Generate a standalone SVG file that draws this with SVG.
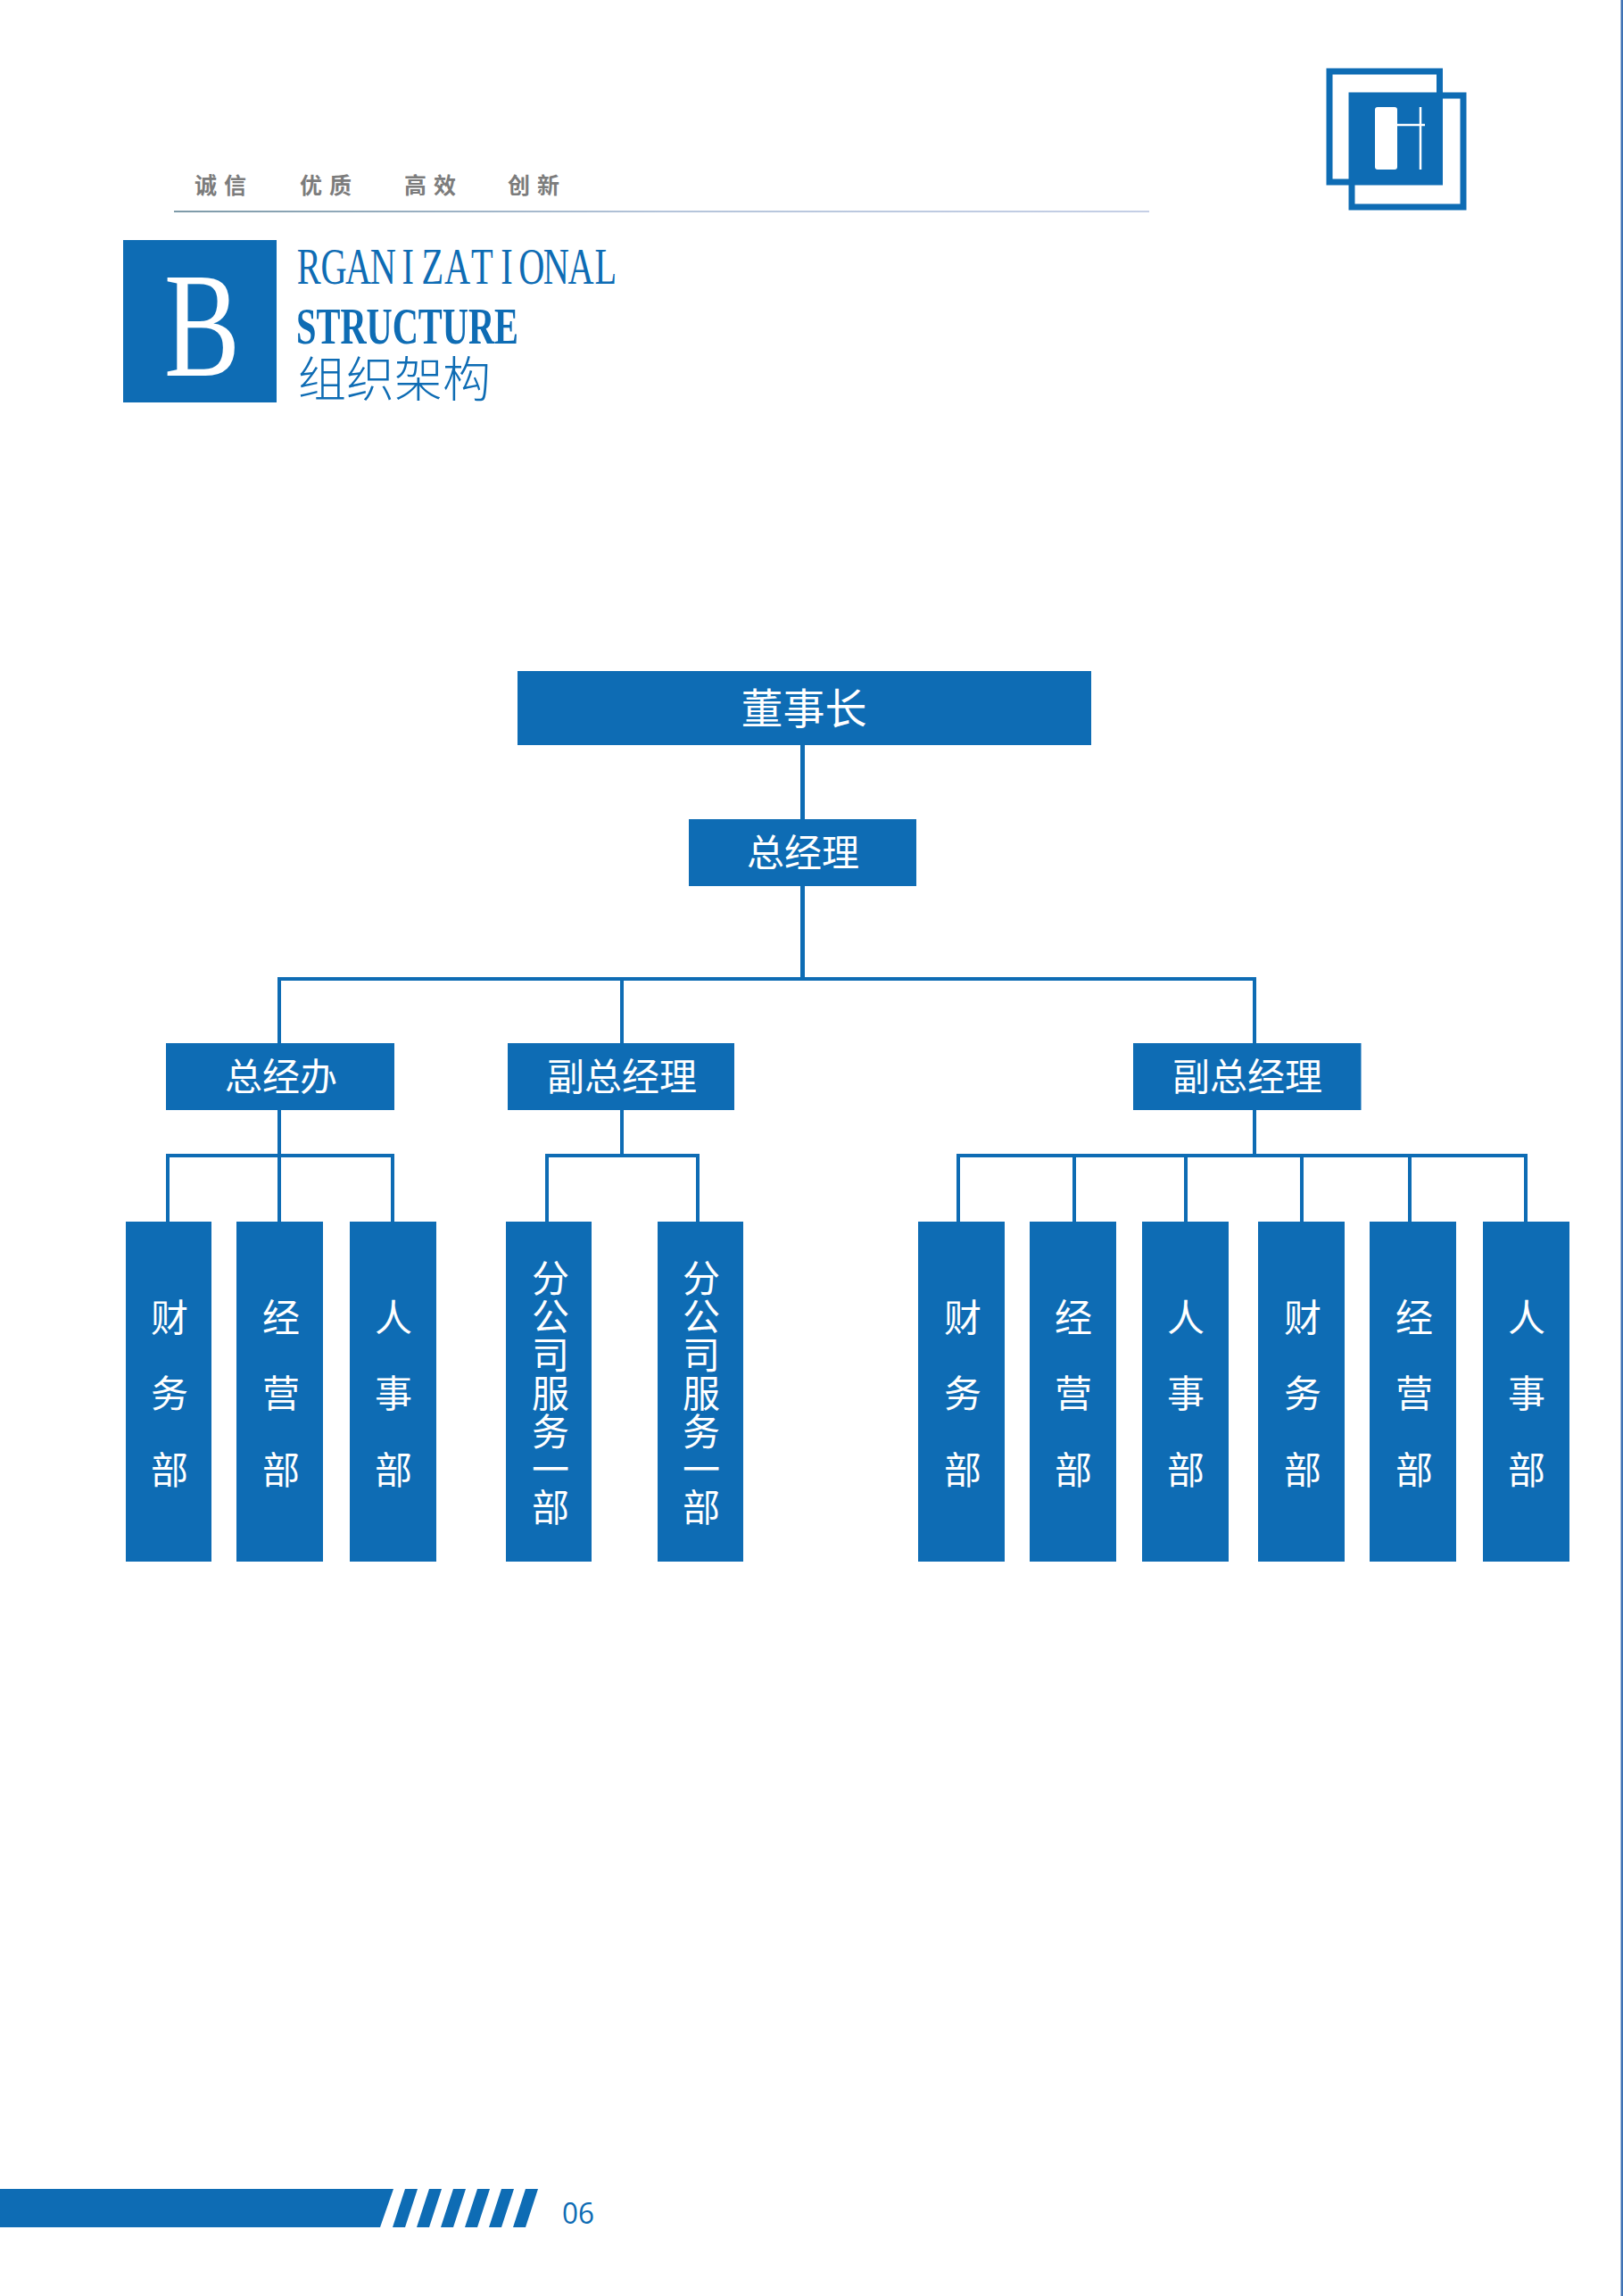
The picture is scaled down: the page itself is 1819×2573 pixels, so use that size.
<svg xmlns="http://www.w3.org/2000/svg" width="1819" height="2573" viewBox="0 0 1819 2573">
<defs><linearGradient id="rule" x1="0" x2="1" y1="0" y2="0"><stop offset="0" stop-color="#7d9aa8"/><stop offset="0.5" stop-color="#b4c4da"/><stop offset="1" stop-color="#c5cfe6"/></linearGradient></defs>
<style>
.b{fill:#0e6cb4}
.t{fill:#fff;font-family:"Noto Sans CJK SC",sans-serif;font-size:42px;text-anchor:middle;font-weight:400}
.c{fill:none;stroke:#0e6cb4;stroke-width:4}
.m{fill:#7c7c7c;font-family:"Noto Sans CJK SC",sans-serif;font-size:25px;font-weight:700}
.h{fill:#0e6cb4;font-family:"Liberation Serif",serif}
</style>
<rect width="1819" height="2573" fill="#fff"/>
<rect x="1816.500" y="0" width="2.500" height="2573" fill="#3f72b4"/>
<g id="logo">
<rect x="1490" y="80" width="123.500" height="124" fill="none" stroke="#0e6cb4" stroke-width="7"/>
<rect x="1515" y="107" width="125" height="125" fill="none" stroke="#0e6cb4" stroke-width="7"/>
<rect x="1512" y="104" width="105" height="103" class="b"/>
<rect x="1541" y="120" width="25" height="70" rx="3" fill="#fff"/>
<path d="M1566 140H1597M1592 120V190" stroke="#fff" stroke-width="2.500" fill="none"/>
</g>
<g id="header">
<text class="m" x="218" y="217" textLength="58">诚信</text>
<text class="m" x="336" y="217" textLength="58">优质</text>
<text class="m" x="453" y="217" textLength="58">高效</text>
<text class="m" x="569" y="217" textLength="58">创新</text>
<rect x="195" y="236" width="1093" height="2" fill="url(#rule)"/>
<rect x="138" y="269" width="172" height="182" class="b"/>
<text x="184" y="421" font-family="Liberation Serif,serif" font-size="168" fill="#fff" textLength="85" lengthAdjust="spacingAndGlyphs">B</text>
<text class="h" transform="translate(334 318) scale(.72 1)" font-size="56" text-anchor="middle" x="17 55.500 94 132.500 171 209.500 248 286.500 325 363.500 402 440.500 479" y="0">RGANIZATIONAL</text>
<text class="h" x="332" y="385" font-size="58" font-weight="700" textLength="249" lengthAdjust="spacingAndGlyphs">STRUCTURE</text>
<text x="334" y="445" font-family="Noto Sans CJK SC,sans-serif" font-size="54" font-weight="300" fill="#0e6cb4" textLength="216">组织架构</text>
</g>
<g id="connectors">
<path class="c" d="M899.500 835V918" style="stroke-width:5"/>
<path class="c" d="M899.500 993V1097" style="stroke-width:5"/>
<path class="c" d="M313 1169V1097H1406V1169M697 1097V1169"/>
<path class="c" d="M313 1244V1369M188 1369V1295H440V1369"/>
<path class="c" d="M697 1244V1295M613 1369V1295H782V1369"/>
<path class="c" d="M1406 1244V1295M1074 1369V1295H1710V1369M1204 1295V1369M1329 1295V1369M1459 1295V1369M1580 1295V1369"/>
</g>
<g id="n1"><rect class="b" x="580" y="752" width="643" height="83"/><text class="t" x="901" y="811" style="font-size:47px">董事长</text></g>
<g id="n2"><rect class="b" x="772" y="918" width="255" height="75"/><text class="t" x="900" y="971">总经理</text></g>
<g id="n3"><rect class="b" x="186" y="1169" width="256" height="75"/><text class="t" x="315" y="1222">总经办</text></g>
<g id="n4"><rect class="b" x="569" y="1169" width="254" height="75"/><text class="t" x="697" y="1222">副总经理</text></g>
<g id="n5"><rect class="b" x="1270" y="1169" width="255.500" height="75"/><text class="t" x="1398" y="1222">副总经理</text></g>
<g id="d1"><rect class="b" x="141" y="1369" width="96" height="381"/><text class="t"><tspan x="190" y="1492">财</tspan><tspan x="190" y="1577">务</tspan><tspan x="190" y="1663">部</tspan></text></g>
<g id="d2"><rect class="b" x="265" y="1369" width="97" height="381"/><text class="t"><tspan x="315" y="1492">经</tspan><tspan x="315" y="1577">营</tspan><tspan x="315" y="1663">部</tspan></text></g>
<g id="d3"><rect class="b" x="392" y="1369" width="97" height="381"/><text class="t"><tspan x="441" y="1492">人</tspan><tspan x="441" y="1577">事</tspan><tspan x="441" y="1663">部</tspan></text></g>
<g id="d4"><rect class="b" x="567" y="1369" width="96" height="381"/><text class="t"><tspan x="617" y="1448">分</tspan><tspan x="617" y="1491">公</tspan><tspan x="617" y="1534">司</tspan><tspan x="617" y="1577">服</tspan><tspan x="617" y="1620">务</tspan><tspan x="617" y="1662">一</tspan><tspan x="617" y="1705">部</tspan></text></g>
<g id="d5"><rect class="b" x="737" y="1369" width="96" height="381"/><text class="t"><tspan x="786" y="1448">分</tspan><tspan x="786" y="1491">公</tspan><tspan x="786" y="1534">司</tspan><tspan x="786" y="1577">服</tspan><tspan x="786" y="1620">务</tspan><tspan x="786" y="1662">一</tspan><tspan x="786" y="1705">部</tspan></text></g>
<g id="d6"><rect class="b" x="1029" y="1369" width="97" height="381"/><text class="t"><tspan x="1079" y="1492">财</tspan><tspan x="1079" y="1577">务</tspan><tspan x="1079" y="1663">部</tspan></text></g>
<g id="d7"><rect class="b" x="1154" y="1369" width="97" height="381"/><text class="t"><tspan x="1203" y="1492">经</tspan><tspan x="1203" y="1577">营</tspan><tspan x="1203" y="1663">部</tspan></text></g>
<g id="d8"><rect class="b" x="1280" y="1369" width="97" height="381"/><text class="t"><tspan x="1329" y="1492">人</tspan><tspan x="1329" y="1577">事</tspan><tspan x="1329" y="1663">部</tspan></text></g>
<g id="d9"><rect class="b" x="1410" y="1369" width="97" height="381"/><text class="t"><tspan x="1460" y="1492">财</tspan><tspan x="1460" y="1577">务</tspan><tspan x="1460" y="1663">部</tspan></text></g>
<g id="d10"><rect class="b" x="1535" y="1369" width="97" height="381"/><text class="t"><tspan x="1585" y="1492">经</tspan><tspan x="1585" y="1577">营</tspan><tspan x="1585" y="1663">部</tspan></text></g>
<g id="d11"><rect class="b" x="1662" y="1369" width="97" height="381"/><text class="t"><tspan x="1711" y="1492">人</tspan><tspan x="1711" y="1577">事</tspan><tspan x="1711" y="1663">部</tspan></text></g>
<g id="footer">
<path class="b" d="M0 2453H441L426 2496H0Z"/>
<path class="b" d="M454 2453H468L454 2496H440ZM481 2453H495L481 2496H467ZM508 2453H522L508 2496H494ZM535 2453H549L535 2496H521ZM562 2453H576L562 2496H548ZM589 2453H603L589 2496H575Z"/>
<text x="630" y="2492" font-family="Open Sans,sans-serif" font-size="33" fill="#0e6cb4" textLength="36" lengthAdjust="spacingAndGlyphs">06</text>
</g>
</svg>
